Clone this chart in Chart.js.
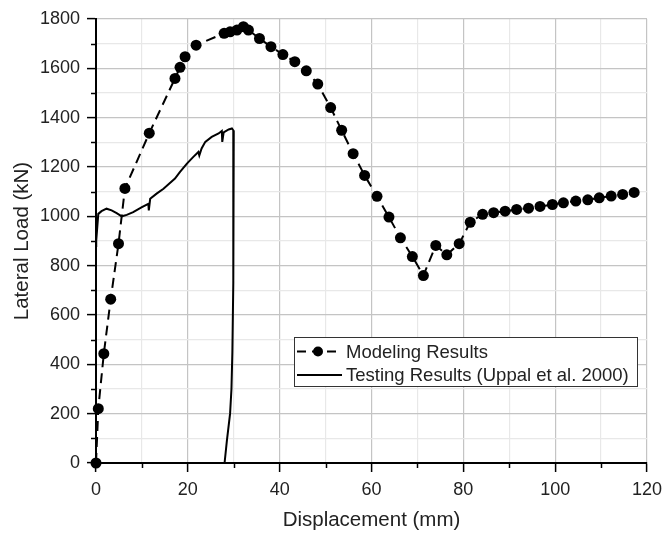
<!DOCTYPE html>
<html>
<head>
<meta charset="utf-8">
<script src="https://cdn.jsdelivr.net/npm/chart.js@4.4.1/dist/chart.umd.min.js"></script>
<style>
html,body{margin:0;padding:0;background:#fff;}
#wrap{width:662px;height:533px;position:relative;}
</style>
</head>
<body>
<div id="wrap"><canvas id="c" width="662" height="533"></canvas></div>
<script>
// Modeling results (dashed line with dots)
const modelX = [0, 0.5, 1.7, 3.2, 4.9, 6.3, 11.6, 17.2, 18.3, 19.4, 21.8, 27.9, 29.2, 30.7, 32.1, 33.2, 35.6, 38.1, 40.7, 43.3, 45.8, 48.3, 51.1, 53.5, 56.0, 58.5, 61.2, 63.8, 66.3, 68.9, 71.3, 74.0, 76.4, 79.1, 81.5, 84.2, 86.6, 89.1, 91.6, 94.2, 96.7, 99.4, 101.8, 104.5, 107.1, 109.6, 112.2, 114.7, 117.2];
const modelY = [0, 220, 443, 664, 889, 1113, 1337, 1559, 1604, 1647, 1694, 1742, 1748, 1755, 1769, 1755, 1721, 1688, 1656, 1627, 1590, 1536, 1441, 1349, 1254, 1166, 1081, 997, 913, 837, 760, 882, 844, 889, 976, 1008, 1015, 1021, 1028, 1033, 1040, 1048, 1055, 1062, 1067, 1075, 1082, 1089, 1097];
// Testing results (solid line)
const testX = [0, 0.05, 0.5, 1.2, 2.3, 3.4, 4.5, 5.6, 6.7, 8.1, 10.0, 11.4, 11.5, 11.8, 13.2, 14.7, 16.1, 17.2, 18.3, 19.8, 21.2, 22.3, 22.5, 23.0, 23.8, 25.2, 26.7, 27.4, 27.5, 27.8, 28.9, 29.6, 30.0, 29.9, 29.7, 29.5, 29.2, 28.5, 28.0];
const testY = [880, 902, 1010, 1021, 1031, 1024, 1013, 1000, 1006, 1017, 1037, 1051, 1024, 1071, 1092, 1112, 1135, 1153, 1180, 1214, 1241, 1261, 1247, 1275, 1302, 1322, 1336, 1346, 1302, 1340, 1352, 1356, 1346, 730, 450, 300, 200, 90, 0];
const xTickLabels = [0, 20, 40, 60, 80, 100, 120];
const yTickLabels = [0, 200, 400, 600, 800, 1000, 1200, 1400, 1600, 1800];
const seriesNames = ['Modeling Results', 'Testing Results (Uppal et al. 2000)'];

const FONT = "'Liberation Sans', Arial, sans-serif";
const TXT = '#222';
const MINOR_LEN = 5;

const minorTicks = {
  id: 'minorTicks',
  afterDraw(chart) {
    const ctx = chart.ctx;
    const xs = chart.scales.x, ys = chart.scales.y;
    ctx.save();
    ctx.strokeStyle = '#000';
    ctx.lineWidth = 1.5;
    xs.ticks.forEach(t => {
      if (!xTickLabels.includes(t.value)) {
        const p = Math.round(xs.getPixelForValue(t.value)) + 0.5;
        ctx.beginPath(); ctx.moveTo(p, xs.top); ctx.lineTo(p, xs.top + MINOR_LEN); ctx.stroke();
      }
    });
    ys.ticks.forEach(t => {
      if (!yTickLabels.includes(t.value)) {
        const p = Math.round(ys.getPixelForValue(t.value)) + 0.5;
        ctx.beginPath(); ctx.moveTo(ys.right, p); ctx.lineTo(ys.right - MINOR_LEN, p); ctx.stroke();
      }
    });
    ctx.restore();
  }
};

const legendPlugin = {
  id: 'boxLegend',
  afterDraw(chart) {
    const ctx = chart.ctx;
    const x0 = 294, y0 = 337, w = 343, h = 49;
    ctx.save();
    ctx.fillStyle = '#fff';
    ctx.fillRect(x0, y0, w, h);
    ctx.strokeStyle = '#333';
    ctx.lineWidth = 1;
    ctx.strokeRect(x0 + 0.5, y0 + 0.5, w, h);
    const r1 = y0 + 14.5, r2 = y0 + 38;
    ctx.strokeStyle = '#000';
    ctx.lineWidth = 2;
    ctx.setLineDash([9, 6]);
    ctx.beginPath(); ctx.moveTo(x0 + 3, r1); ctx.lineTo(x0 + 45, r1); ctx.stroke();
    ctx.setLineDash([]);
    ctx.fillStyle = '#000';
    ctx.beginPath(); ctx.arc(x0 + 24, r1, 5, 0, Math.PI * 2); ctx.fill();
    ctx.beginPath(); ctx.moveTo(x0 + 3, r2); ctx.lineTo(x0 + 48, r2); ctx.stroke();
    ctx.fillStyle = TXT;
    ctx.font = "18.5px " + FONT;
    ctx.textBaseline = 'middle';
    ctx.textAlign = 'left';
    ctx.fillText(seriesNames[0], x0 + 52, r1 + 1);
    ctx.fillText(seriesNames[1], x0 + 52, r2 + 1);
    ctx.restore();
  }
};

new Chart(document.getElementById('c'), {
  type: 'scatter',
  data: {
    datasets: [
      {
        label: seriesNames[0],
        data: modelX.map((x, i) => ({x: x, y: modelY[i]})),
        showLine: true,
        borderColor: '#000',
        backgroundColor: '#000',
        borderWidth: 2,
        borderDash: [10, 6],
        pointRadius: 5.5,
        pointBackgroundColor: '#000',
        pointBorderWidth: 0,
        tension: 0
      },
      {
        label: seriesNames[1],
        data: testX.map((x, i) => ({x: x, y: testY[i]})),
        showLine: true,
        borderColor: '#000',
        borderWidth: 2,
        pointRadius: 0,
        tension: 0
      }
    ]
  },
  options: {
    responsive: false,
    animation: false,
    clip: false,
    layout: {padding: {left: 8, right: 0, top: 19, bottom: 0}},
    plugins: {legend: {display: false}, tooltip: {enabled: false}},
    scales: {
      x: {
        type: 'linear', min: 0, max: 120,
        afterFit: s => { s.height = 70; s.paddingRight = 15; s.paddingLeft = 0; },
        ticks: {
          stepSize: 10, autoSkip: false, maxRotation: 0,
          color: TXT, font: {family: FONT, size: 18}, padding: 7,
          callback: v => xTickLabels.includes(v) ? String(v) : ''
        },
        grid: {
          color: c => (c.tick && c.tick.value % 20 === 0) ? '#c4c4c4' : '#e8e8e8',
          lineWidth: 1.2,
          tickColor: c => (c.tick && xTickLabels.includes(c.tick.value)) ? '#000' : 'rgba(0,0,0,0)',
          tickLength: 9, tickWidth: 1.5
        },
        border: {color: '#000', width: 2},
        title: {display: true, text: 'Displacement (mm)', color: TXT, font: {family: FONT, size: 20.5}, padding: {top: 4, bottom: 0}}
      },
      y: {
        type: 'linear', min: 0, max: 1800,
        afterFit: s => { s.width = 88; },
        ticks: {
          stepSize: 100, autoSkip: false,
          color: TXT, font: {family: FONT, size: 18}, padding: 7,
          callback: v => yTickLabels.includes(v) ? String(v) : ''
        },
        grid: {
          color: c => (c.tick && c.tick.value % 200 === 0) ? '#c4c4c4' : '#e8e8e8',
          lineWidth: 1.2,
          tickColor: c => (c.tick && yTickLabels.includes(c.tick.value)) ? '#000' : 'rgba(0,0,0,0)',
          tickLength: 9, tickWidth: 1.5
        },
        border: {color: '#000', width: 2},
        title: {display: true, text: 'Lateral Load (kN)', color: TXT, font: {family: FONT, size: 20.5}, padding: {top: 2, bottom: 4}}
      }
    }
  },
  plugins: [minorTicks, legendPlugin]
});
</script>
</body>
</html>
